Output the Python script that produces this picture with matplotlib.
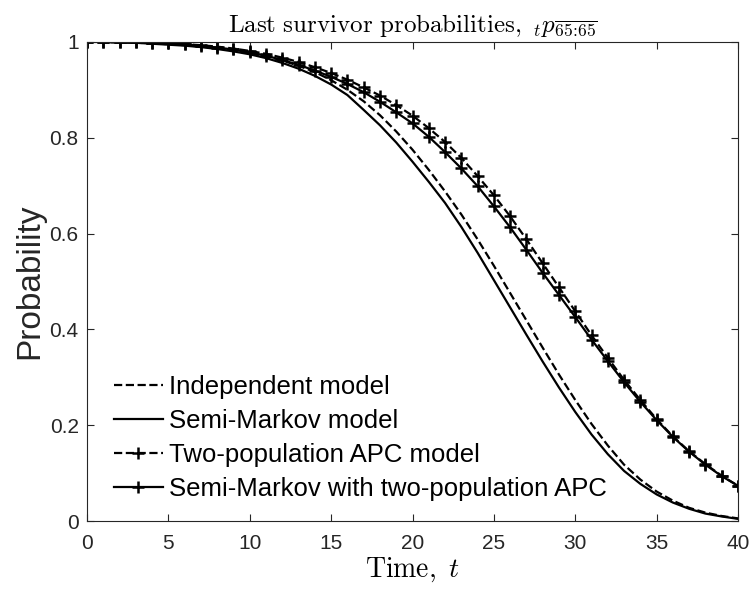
import matplotlib
matplotlib.use("Agg")
import matplotlib.pyplot as plt
import numpy as np

t = np.arange(0, 41)

independent = [1.000, 0.9996, 0.999, 0.998, 0.997, 0.995, 0.993, 0.990, 0.987, 0.982,
               0.977, 0.970, 0.961, 0.950, 0.937, 0.920, 0.900, 0.876, 0.847, 0.813,
               0.775, 0.733, 0.688, 0.640, 0.588, 0.533, 0.476, 0.419, 0.362, 0.306,
               0.253, 0.203, 0.158, 0.118, 0.087, 0.062, 0.043, 0.028, 0.018, 0.011,
               0.006]
semi_markov = [1.000, 0.9995, 0.999, 0.998, 0.996, 0.994, 0.992, 0.989, 0.985, 0.980,
               0.974, 0.966, 0.956, 0.944, 0.929, 0.911, 0.889, 0.858, 0.826, 0.790,
               0.750, 0.708, 0.664, 0.614, 0.560, 0.503, 0.446, 0.389, 0.333, 0.279,
               0.228, 0.181, 0.140, 0.105, 0.078, 0.056, 0.039, 0.026, 0.016, 0.010,
               0.005]
two_pop_apc = [1.000, 0.9997, 0.9994, 0.9988, 0.998, 0.997, 0.995, 0.993, 0.990, 0.986,
               0.981, 0.975, 0.967, 0.958, 0.947, 0.935, 0.921, 0.905, 0.888, 0.868,
               0.846, 0.820, 0.791, 0.758, 0.720, 0.680, 0.636, 0.588, 0.538, 0.488,
               0.438, 0.388, 0.341, 0.295, 0.253, 0.213, 0.177, 0.146, 0.119, 0.095,
               0.074]
semi_markov_apc = [1.000, 0.9997, 0.9993, 0.9987, 0.998, 0.997, 0.995, 0.992, 0.988, 0.984,
                   0.978, 0.971, 0.962, 0.952, 0.940, 0.927, 0.912, 0.895, 0.875, 0.853,
                   0.830, 0.802, 0.770, 0.736, 0.699, 0.657, 0.613, 0.566, 0.518, 0.472,
                   0.426, 0.379, 0.334, 0.290, 0.249, 0.211, 0.176, 0.145, 0.118, 0.094,
                   0.074]

labels = ['Independent model', 'Semi-Markov model',
          'Two-population APC model', 'Semi-Markov with two-population APC']

plt.rcParams['font.family'] = ['Liberation Sans', 'DejaVu Sans']
plt.rcParams['mathtext.fontset'] = 'cm'

fig = plt.figure(figsize=(7.5, 5.89), dpi=100)
ax = fig.add_axes([0.116, 0.115, 0.868, 0.814])

lw = 1.6
ax.plot(t, independent, 'k--', lw=lw, label=labels[0])
ax.plot(t, semi_markov, 'k-', lw=lw, label=labels[1])
ax.plot(t, two_pop_apc, 'k--', lw=lw, marker='+', ms=8, mew=1.8, label=labels[2])
ax.plot(t, semi_markov_apc, 'k-', lw=lw, marker='+', ms=8, mew=1.8, label=labels[3])

ax.set_xlim(0, 40)
ax.set_ylim(0, 1)
ax.set_xticks(range(0, 41, 5))
ax.set_yticks([0, 0.2, 0.4, 0.6, 0.8, 1])
ax.set_yticklabels(['0', '0.2', '0.4', '0.6', '0.8', '1'])
ax.tick_params(direction='in', top=True, right=True, length=5, width=0.8,
               labelsize=15, colors='0.15', labelcolor='0.15')
ax.tick_params(axis='x', pad=9)
ax.tick_params(axis='y', pad=6)
for s in ax.spines.values():
    s.set_color('0.15')
    s.set_linewidth(0.8)

ax.set_title(r'$\mathrm{Last\ survivor\ probabilities,\ }{}_{t}p_{\overline{65\!:\!65}}$',
             fontsize=18, pad=7)
ax.set_xlabel(r'$\mathrm{Time,\ }t$', fontsize=20, labelpad=2)
ax.set_ylabel('Probability', fontsize=24, color='0.15', labelpad=3)

ax.legend(loc='lower left', frameon=False, fontsize=18.5, handlelength=1.9,
          handletextpad=0.25, labelspacing=0.38, borderaxespad=0.4,
          bbox_to_anchor=(0.01, 0.0))

fig.savefig('out.png', dpi=100)
